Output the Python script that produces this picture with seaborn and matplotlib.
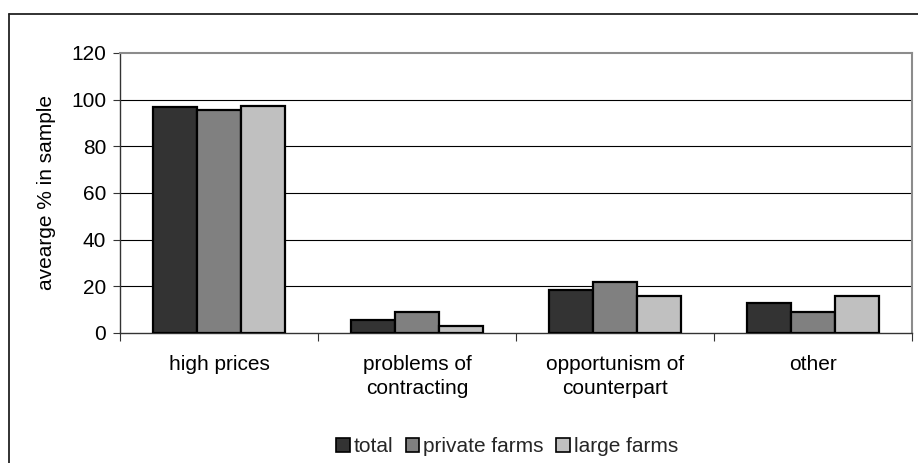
import matplotlib
matplotlib.use("Agg")
import matplotlib.pyplot as plt
import matplotlib.lines as mlines
import matplotlib.patches as mpatches
import pandas as pd
import seaborn as sns

categories = ["high prices", "problems of\ncontracting", "opportunism of\ncounterpart", "other"]
series = ["total", "private farms", "large farms"]
total = [96.7, 5.7, 18.3, 12.9]
private_farms = [95.7, 8.8, 21.9, 8.9]
large_farms = [97.1, 3.2, 15.8, 15.8]
y_ticks = [0, 20, 40, 60, 80, 100, 120]
colors = ["#333333", "#808080", "#c0c0c0"]

rows = []
for name, vals in zip(series, [total, private_farms, large_farms]):
    for cat, v in zip(categories, vals):
        rows.append({"category": cat, "series": name, "value": v})
df = pd.DataFrame(rows)

sns.set_theme(style="white")
plt.rcParams["font.family"] = ["Liberation Sans", "DejaVu Sans"]
FS = 15

fig = plt.figure(figsize=(9.18, 4.63), dpi=100)
W, H = 918, 463
ax = fig.add_axes([120 / W, (H - 333) / H, 792 / W, 280 / H])

sns.barplot(data=df, x="category", y="value", hue="series", order=categories,
            hue_order=series, palette=colors, width=0.667, edgecolor="black",
            linewidth=1.6, saturation=1, ax=ax, zorder=3, legend=False)

ax.set_ylim(0, 120)
ax.set_xlim(-0.5, 3.5)
ax.set_yticks(y_ticks)
ax.set_yticklabels([str(t) for t in y_ticks], fontsize=FS, color="black")
for t in y_ticks[1:-1]:
    ax.axhline(t, color="black", lw=0.8, zorder=1)

# category boundaries carry the tick marks, labels sit at the centres
ax.set_xticks([-0.5, 0.5, 1.5, 2.5, 3.5])
ax.set_xticklabels([])
ax.set_xticks(range(len(categories)), minor=True)
ax.set_xticklabels(categories, minor=True, fontsize=FS, color="black", linespacing=1.3)
ax.tick_params(axis="x", which="major", direction="out", length=6, width=0.8,
               color="#333333", bottom=True)
ax.tick_params(axis="x", which="minor", length=0, pad=16, bottom=True)
ax.tick_params(axis="y", direction="out", length=5, width=0.8, color="#333333",
               left=True, pad=5)

ax.set_xlabel("")
ax.set_ylabel("avearge % in sample", fontsize=FS, color="black", labelpad=11)

for side in ["left", "bottom"]:
    ax.spines[side].set_color("#333333")
    ax.spines[side].set_linewidth(1.0)
for side in ["top", "right"]:
    ax.spines[side].set_color("#8c8c8c")
    ax.spines[side].set_linewidth(1.5)
    ax.spines[side].set_visible(True)

handles = [mpatches.Patch(facecolor=c, edgecolor="black", linewidth=1.2, label=s)
           for c, s in zip(colors, series)]
fig.legend(handles=handles, loc="center", bbox_to_anchor=(507 / W, 1 - 447 / H),
           ncol=3, frameon=False, fontsize=FS, handlelength=0.66, handleheight=0.66,
           handletextpad=0.18, columnspacing=0.6, borderaxespad=0)

# outer chart border
fig.add_artist(mlines.Line2D([9 / W, 1.0], [1 - 14 / H, 1 - 14 / H], color="#222222", lw=1.3))
fig.add_artist(mlines.Line2D([9 / W, 9 / W], [0, 1 - 14 / H], color="#222222", lw=1.3))

fig.savefig("out.png", dpi=100)
